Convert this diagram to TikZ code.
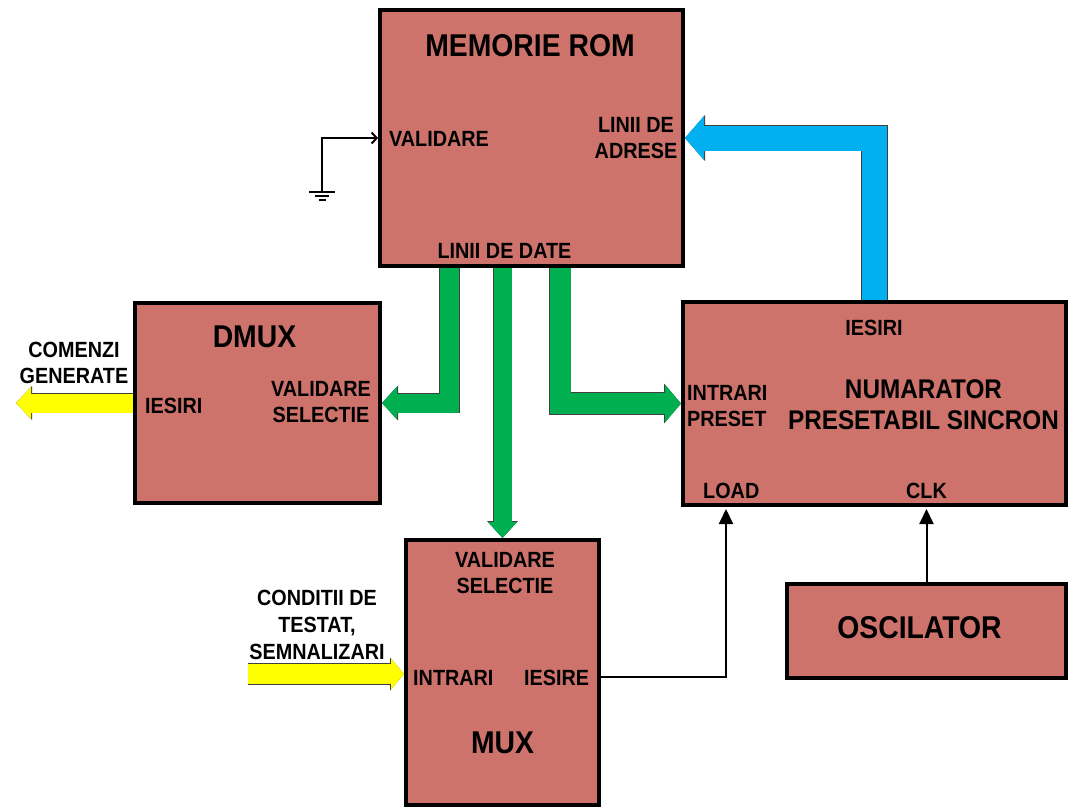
\documentclass[tikz,border=0pt]{standalone}
\usepackage{fontspec}
\setmainfont[FakeStretch=0.9]{Liberation Sans}
\usepackage{xcolor}
\definecolor{BlockRed}{RGB}{205,115,107}
\definecolor{BusGreen}{RGB}{0,176,80}
\definecolor{BusBlue}{RGB}{0,176,240}
\definecolor{BusYellow}{RGB}{255,255,0}
\usetikzlibrary{arrows.meta,calc,backgrounds}

% wide bus arrow: colour, shaft width, head length, head width, path
\newcommand{\busarrow}[5]{%
  \pgfmathsetmacro{\busW}{#2+1.4}\pgfmathsetmacro{\busL}{#3+1}\pgfmathsetmacro{\busH}{#4+2}%
  \draw[draw=black!75, line width=\busW pt, -{Triangle[length=\busL pt, width=\busH pt, line width=0pt]}] #5;
  \draw[draw=#1, line width=#2pt, -{Triangle[length=#3pt, width=#4pt, line width=0pt]}] #5;}

\begin{document}
\begin{tikzpicture}[x=1pt, y=-1pt,
    blk/.style={rectangle, draw=black, line width=4pt, fill=BlockRed, inner sep=0pt},
    ttl/.style={font=\fontsize{31.5}{36}\selectfont\bfseries, inner sep=0pt, anchor=base},
    lbl/.style={font=\fontsize{22}{26}\selectfont\bfseries, inner sep=0pt, align=center, anchor=base},
    wire/.style={line width=2pt, draw=black},
    w/.style={wire, -{Triangle[length=15pt, width=14pt]}}
]
    \useasboundingbox (0,0) rectangle (1074,808);

    % blocks
    \node[blk, minimum width=303pt, minimum height=256pt] (rom) at (531.5,138) {};
    \node[blk, minimum width=245pt, minimum height=200pt] (dmux) at (257.5,403) {};
    \node[blk, minimum width=383pt, minimum height=203pt] (num) at (874.5,403.5) {};
    \node[blk, minimum width=193pt, minimum height=265pt] (mux) at (502.5,672.5) {};
    \node[blk, minimum width=279pt, minimum height=94pt] (osc) at (926.5,631) {};

    % labels (multi-line ones sit on their last line)
    \node[ttl] (romttl) at (530,57) {MEMORIE ROM};
    \node[lbl, anchor=base west] (romval) at (389,146) {VALIDARE};
    \node[lbl] (romadr) at (636,158) {LINII DE\\ADRESE};
    \node[lbl] (romdate) at (504.5,258) {LINII DE DATE};

    \node[ttl] (dmuxttl) at (254.5,347) {DMUX};
    \node[lbl, anchor=base west] (dmuxout) at (145,413) {IESIRI};
    \node[lbl] (dmuxsel) at (321,422) {VALIDARE\\SELECTIE};
    \node[lbl] (cmdlbl) at (74,383) {COMENZI\\GENERATE};

    \node[lbl] (numout) at (874,335) {IESIRI};
    \node[lbl, align=left, anchor=base west] (numin) at (687,426) {INTRARI\\PRESET};
    \node[lbl, font=\fontsize{27}{31}\selectfont\bfseries] (numttl) at (923.5,429) {NUMARATOR\\PRESETABIL SINCRON};
    \node[lbl, anchor=base west] (load) at (703,498) {LOAD};
    \node[lbl] (clk) at (926.5,498) {CLK};

    \node[lbl] (muxsel) at (505,593) {VALIDARE\\SELECTIE};
    \node[lbl, anchor=base west] (muxin) at (413,685) {INTRARI};
    \node[lbl, anchor=base west] (muxout) at (524,685) {IESIRE};
    \node[ttl] (muxttl) at (502.5,753) {MUX};
    \node[lbl, font=\fontsize{22}{27}\selectfont\bfseries] (condlbl) at (317,659) {CONDITII DE\\TESTAT,\\SEMNALIZARI};

    \node[ttl] (oscttl) at (919.5,638) {OSCILATOR};

    \coordinate (cmdout) at (16,403);
    \coordinate (condsrc) at (248,674);
    \coordinate (gnd) at (322,192);

    % buses
    \begin{scope}[on background layer]
        \busarrow{BusBlue}{25}{19}{44}{(num.north) |- (rom.east)}
        \busarrow{BusGreen}{19}{15}{33}{([xshift=-82pt]rom.south) |- (dmux.east)}
        \busarrow{BusGreen}{18}{16}{29}{(rom.south -| mux.north) -- (mux.north)}
        \busarrow{BusGreen}{21}{16}{38}{([xshift=28.5pt]rom.south) |- (num.west)}
        \busarrow{BusYellow}{19}{15}{32}{(dmux.west) -- (cmdout)}
        \busarrow{BusYellow}{20}{13}{31}{(condsrc) -- (condsrc -| mux.west)}
    \end{scope}

    % single lines
    \draw[w, shorten >=2pt] (mux.east |- muxout) -| ([xshift=-148.5pt]num.south);
    \draw[w, shorten >=2pt] (osc.north) -- (osc.north |- num.south);
    \draw[wire, -{Straight Barb[length=5pt, width=11pt]}] (gnd) |- (rom.west);
    \draw[wire] ([xshift=-13pt]gnd) -- ([xshift=13pt]gnd);
    \draw[wire] ([xshift=-7pt, yshift=-4pt]gnd) -- ([xshift=7pt, yshift=-4pt]gnd);
    \draw[wire] ([xshift=-3.5pt, yshift=-8pt]gnd) -- ([xshift=3.5pt, yshift=-8pt]gnd);
\end{tikzpicture}
\end{document}
